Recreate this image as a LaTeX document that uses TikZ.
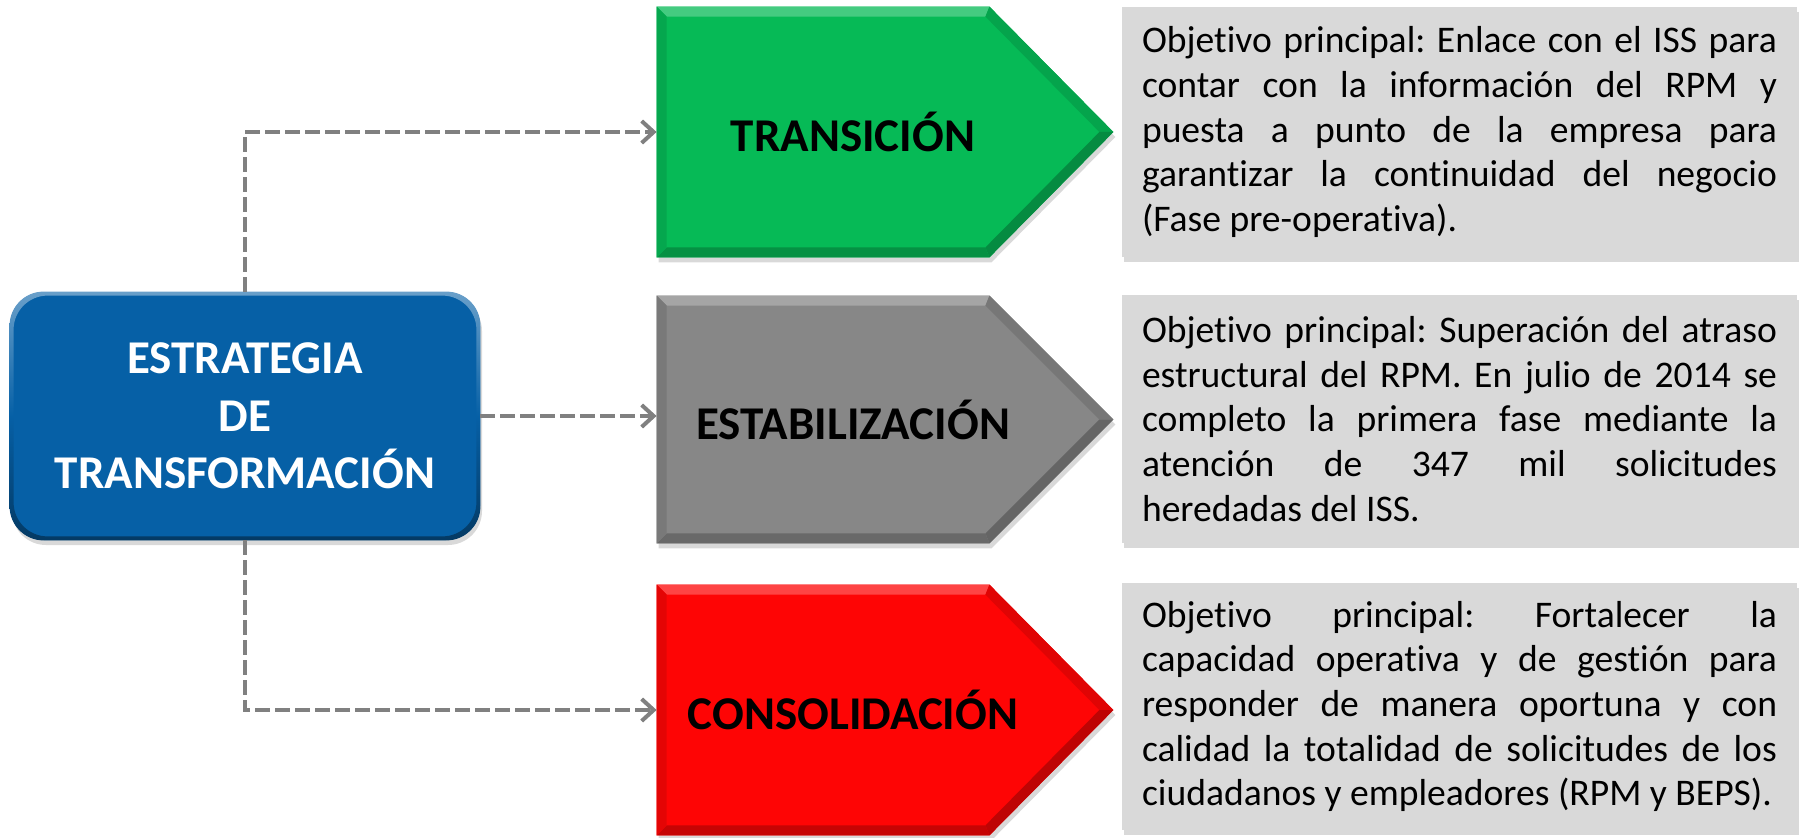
\documentclass[tikz,border=0pt]{standalone}
\usepackage{fontspec}
\setmainfont{Carlito}[Ligatures=NoCommon]
\usetikzlibrary{arrows.meta,shadows,calc}
\definecolor{phgreen}{RGB}{6,186,86}
\definecolor{phgray}{RGB}{135,135,135}
\definecolor{phred}{RGB}{254,5,5}
\definecolor{stratblue}{RGB}{6,96,166}
\definecolor{descgray}{RGB}{217,217,217}
\definecolor{conngray}{RGB}{128,128,128}
\frenchspacing
\newcommand{\bevelpent}[2]{%
  \fill[#2, drop shadow={shadow xshift=1pt, shadow yshift=-2.5pt, opacity=0.3}] (#1.north west) -- ($(#1.north east)+(-124,0)$) -- (#1.east) -- ($(#1.south east)+(-124,0)$) -- (#1.south west) -- cycle;
  \fill[#2!75!white] (#1.north west) -- ($(#1.north east)+(-124,0)$) -- ($(#1.north east)+(-128,-10)$) -- ($(#1.north west)+(10,-10)$) -- cycle;
  \fill[#2!88!black] ($(#1.north east)+(-124,0)$) -- (#1.east) -- ($(#1.east)+(-14,0)$) -- ($(#1.north east)+(-128,-10)$) -- cycle;
  \fill[#2!75!black] (#1.east) -- ($(#1.south east)+(-124,0)$) -- ($(#1.south east)+(-128,10)$) -- ($(#1.east)+(-14,0)$) -- cycle;
  \fill[#2!78!black] ($(#1.south east)+(-124,0)$) -- (#1.south west) -- ($(#1.south west)+(10,10)$) -- ($(#1.south east)+(-128,10)$) -- cycle;
  \fill[#2!90!black] (#1.south west) -- (#1.north west) -- ($(#1.north west)+(10,-10)$) -- ($(#1.south west)+(10,10)$) -- cycle;
}
\tikzset{
  phasebox/.style={minimum width=228pt, minimum height=125pt, inner sep=0pt},
  phaselabel/.style={font=\fontsize{23.5pt}{28.75pt}\selectfont\bfseries, text=black, inner sep=0pt},
  descbox/.style={fill=descgray, text width=317.5pt, inner xsep=10pt, inner ysep=0pt,
    minimum height=125pt, align=justify, font=\fontsize{18.8pt}{22.3pt}\selectfont,
    drop shadow={shadow xshift=1pt, shadow yshift=-2.5pt, opacity=0.3}},
  bluebox/.style={fill=stratblue, rounded corners=17pt, minimum width=235pt, minimum height=124pt,
    text=white, align=center, font=\fontsize{23.5pt}{28.75pt}\selectfont\bfseries,
    drop shadow={shadow xshift=1pt, shadow yshift=-2.5pt, opacity=0.3}},
  conn/.style={draw=conngray, line width=2pt, dash pattern=on 7.5pt off 2.5pt,
    -{Straight Barb[length=6pt,width=11pt,line width=2pt]}}
}
\begin{document}
\begin{tikzpicture}[x=0.5pt,y=0.5pt]
\useasboundingbox (0,0) rectangle (1804,837);
% strategy box
\node[bluebox] (strat) at (245,421) {ESTRATEGIA\\DE\\TRANSFORMACIÓN};
\shade[top color=stratblue!60!white, bottom color=stratblue!60!black, middle color=stratblue, even odd rule, rounded corners=17pt]
  (strat.south west) rectangle (strat.north east)
  ($(strat.south west)+(4,4)$) rectangle ($(strat.north east)+(-4,-4)$);
% phase shapes
\node[phasebox] (trans) at (885,705) {};
\node[phasebox, minimum height=123.5pt] (estab) at (885,417.5) {};
\node[phasebox] (conso) at (885,127) {};
\bevelpent{trans}{phgreen}
\bevelpent{estab}{phgray}
\bevelpent{conso}{phred}
\node[phaselabel] (transl) at (853,705) {TRANSICIÓN};
\node[phaselabel] (establ) at (853,417.5) {ESTABILIZACIÓN};
\node[phaselabel] (consol) at (853,127) {CONSOLIDACIÓN};
% descriptions
\node[descbox] (d1) at (1459.5,705) {Objetivo principal: Enlace con el ISS para\linebreak contar con la información del RPM y\linebreak puesta a punto de la empresa para\linebreak garantizar la continuidad del negocio\linebreak (Fase pre-operativa).};
\node[descbox, minimum height=124pt] (d2) at (1459.5,418) {Objetivo principal: Superación del atraso\linebreak estructural del RPM. En julio de 2014 se\linebreak completo la primera fase mediante la\linebreak atención de 347 mil solicitudes\linebreak heredadas del ISS.};
\node[descbox, minimum height=123.5pt] (d3) at (1459.5,130.5) {Objetivo principal: Fortalecer la\linebreak capacidad operativa y de gestión para\linebreak responder de manera oportuna y con\linebreak calidad la totalidad de solicitudes de los\linebreak ciudadanos y empleadores (RPM y BEPS).};
% connectors
\draw[conn] (strat.north) |- (trans.west);
\draw[conn] (strat.east) -- (strat.east -| estab.west);
\draw[conn] (strat.south) |- (conso.west);
\end{tikzpicture}
\end{document}
